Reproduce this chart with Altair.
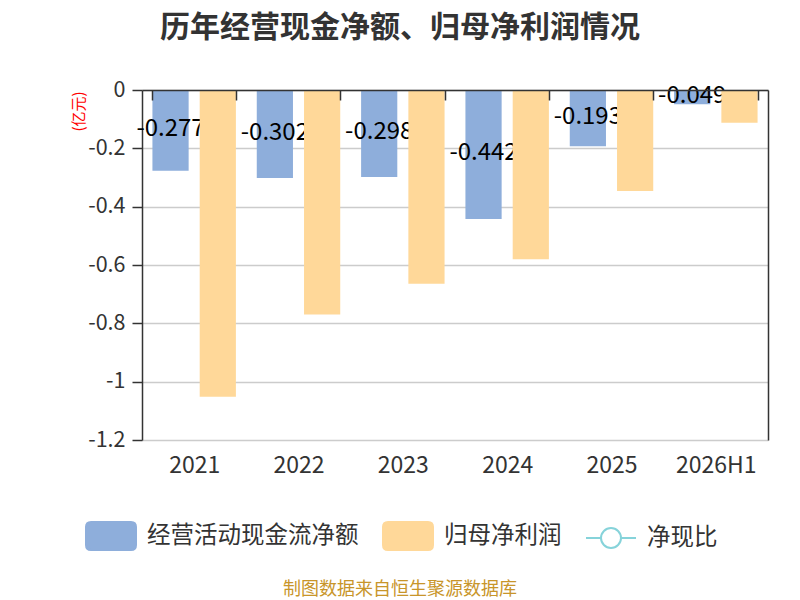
import altair as alt
import pandas as pd

years = ["2021", "2022", "2023", "2024", "2025", "2026H1"]
cash_flow = [-0.277, -0.302, -0.298, -0.442, -0.193, -0.049]
net_profit = [-1.052, -0.770, -0.664, -0.580, -0.346, -0.112]
cash_labels = ["-0.277", "-0.302", "-0.298", "-0.442", "-0.193", "-0.049"]

S_CASH = "经营活动现金流净额"
S_PROFIT = "归母净利润"
S_RATIO = "净现比"
series_all = [S_CASH, S_PROFIT, S_RATIO]
y_ticks = [0, -0.2, -0.4, -0.6, -0.8, -1.0, -1.2]

BLUE = "#8eaedb"
ORANGE = "#ffd899"
TEAL = "#86d3da"
FONT = "Noto Sans CJK SC"

rows = []
for i, yr in enumerate(years):
    rows.append({"year": yr, "series": S_CASH, "value": cash_flow[i], "label": cash_labels[i]})
    rows.append({"year": yr, "series": S_PROFIT, "value": net_profit[i], "label": ""})
df = pd.DataFrame(rows)

x_axis = alt.Axis(
    orient="bottom", offset=-350, domain=True, domainColor="#333333", domainWidth=1.5,
    ticks=True, tickBand="extent", tickSize=10, tickColor="#333333", tickWidth=1.5,
    labelPadding=354, labelFontSize=23, labelColor="#333333", labelFont=FONT,
    labelAngle=0, title=None, grid=False, zindex=1,
)
x_enc = alt.X("year:N", sort=years, axis=x_axis,
              scale=alt.Scale(domain=years, paddingInner=0.2, paddingOuter=0.1))
xo_enc = alt.XOffset("series:N", scale=alt.Scale(domain=[S_CASH, S_PROFIT], paddingInner=0.234, paddingOuter=0))
y_scale = alt.Scale(domain=[-1.2, 0], nice=False, zero=True)

y_axis_left = alt.Axis(
    values=y_ticks,
    labelExpr="datum.value == 0 ? '0' : '-' + format(abs(datum.value), '~g')",
    tickSize=10, tickColor="#333333", tickWidth=1.5,
    domain=True, domainColor="#333333", domainWidth=1.5,
    grid=True, gridColor="#cccccc", gridWidth=1.5,
    labelFontSize=21.5, labelColor="#333333", labelFont=FONT, labelPadding=7,
    title="(亿元)", titleColor="#ff0000", titleFontSize=15, titleFont=FONT,
    titleFontWeight="normal", titleAngle=-90, titleX=-64, titleY=21,
    titleAlign="center", titleBaseline="middle",
)
y_axis_right = alt.Axis(
    orient="right", values=y_ticks, labels=False, ticks=False, grid=False,
    domain=True, domainColor="#333333", domainWidth=1.5, title=None,
)

base = alt.Chart(df)

blue_bars = base.transform_filter(alt.datum.series == S_CASH).mark_bar(color=BLUE).encode(
    x=x_enc, xOffset=xo_enc,
    y=alt.Y("value:Q", scale=y_scale, axis=y_axis_left),
)

labels = base.transform_filter(alt.datum.series == S_CASH).transform_calculate(
    half="datum.value / 2"
).mark_text(fontSize=24, color="#000000", font=FONT, align="center", baseline="middle", dy=-1).encode(
    x=x_enc, xOffset=xo_enc,
    y=alt.Y("half:Q", scale=y_scale, axis=None),
    text="label:N",
)

orange_bars = base.transform_filter(alt.datum.series == S_PROFIT).mark_bar(color=ORANGE).encode(
    x=x_enc, xOffset=xo_enc,
    y=alt.Y("value:Q", scale=y_scale, axis=y_axis_right),
)

RRECT = "M-0.8,-0.56H0.8Q1,-0.56 1,-0.36V0.36Q1,0.56 0.8,0.56H-0.8Q-1,0.56 -1,0.36V-0.36Q-1,-0.56 -0.8,-0.56Z"
LINEC = "M-1,0H-0.4M0.4,0H1M-0.4,0A0.4,0.4 0 1,1 0.4,0A0.4,0.4 0 1,1 -0.4,0Z"

legend = alt.Legend(
    orient="none", legendX=-57, legendY=420, direction="horizontal", title=None,
    labelFontSize=23.5, labelColor="#333333", labelFont=FONT, labelOffset=10,
    labelLimit=400, columnPadding=20, symbolSize=2500, symbolStrokeWidth=2, padding=0,
)
legend_layer = base.transform_filter("false").mark_point(opacity=1, size=2500, strokeWidth=2).encode(
    fill=alt.Fill("series:N", scale=alt.Scale(domain=series_all, range=[BLUE, ORANGE, "#ffffff"]), legend=legend),
    stroke=alt.Stroke("series:N", scale=alt.Scale(domain=series_all, range=[BLUE, ORANGE, TEAL]), legend=legend),
    shape=alt.Shape("series:N", scale=alt.Scale(domain=series_all, range=[RRECT, RRECT, LINEC]), legend=legend),
)

footer = alt.Chart(pd.DataFrame({"t": ["制图数据来自恒生聚源数据库"]})).mark_text(
    fontSize=18, color="#c8952a", font=FONT, align="center", baseline="middle"
).encode(x=alt.value(258), y=alt.value(500), text="t:N")

chart = alt.layer(blue_bars, labels, orange_bars, legend_layer, footer).resolve_axis(
    y="independent"
).properties(
    width=626, height=350,
    padding={"left": 134, "top": 82, "right": 24, "bottom": 160},
    autosize=alt.AutoSizeParams(type="none"),
    title=alt.TitleParams(
        "历年经营现金净额、归母净利润情况", fontSize=30, fontWeight="bold", font=FONT,
        color="#333333", anchor="middle", dx=-55, offset=36,
    ),
).configure_view(stroke=None)

chart.save("out.html", embed_options={"renderer": "svg", "actions": False})
